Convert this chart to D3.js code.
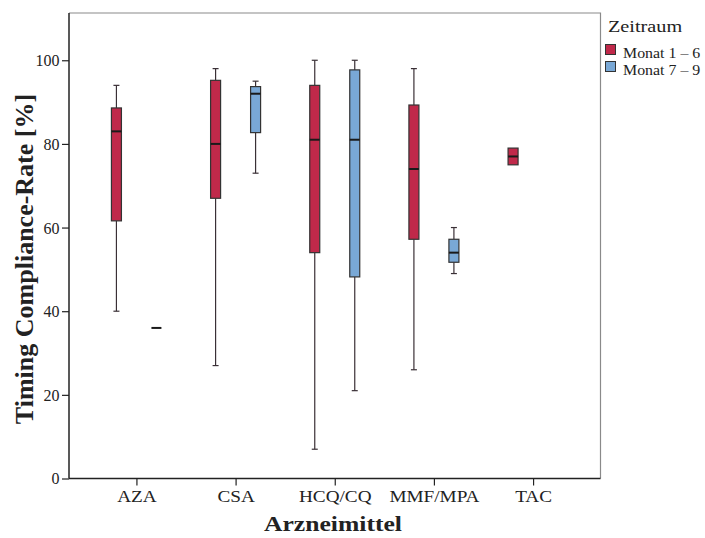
<!DOCTYPE html>
<html>
<head>
<meta charset="utf-8">
<script src="https://cdn.jsdelivr.net/npm/d3@7"></script>
<style>
  html, body { margin: 0; padding: 0; background: #fff; }
  svg { display: block; }
  text { font-family: "Liberation Serif", "DejaVu Serif", serif; fill: #222; }
</style>
</head>
<body>
<svg id="chart" width="705" height="538"></svg>
<script>
// Drug groups and the two observation periods
const categories = ["AZA", "CSA", "HCQ/CQ", "MMF/MPA", "TAC"];
const periods = ["Monat 1 – 6", "Monat 7 – 9"];
const periodColors = ["#C0294A", "#79A8D6"];
const yTicks = [0, 20, 40, 60, 80, 100];

// Box statistics per drug: [whisker low, Q1, median, Q3, whisker high]; null = no data
const stats1to6 = [
  [40, 61.6, 83, 88.6, 94],
  [27, 67, 80, 95.2, 98],
  [7, 54, 81, 94, 100],
  [26, 57.2, 74, 89.3, 98],
  [75, 75, 77, 79, 79]
];
const stats7to9 = [
  [36, 36, 36, 36, 36],
  [73, 82.7, 92, 93.7, 95],
  [21, 48.2, 81, 97.7, 100],
  [49, 51.7, 54, 57.2, 60],
  null
];
const seriesStats = [stats1to6, stats7to9];

const svg = d3.select("#chart");
const margin = { left: 69, top: 13, right: 600.5, bottom: 478.5 };

const x = d3.scalePoint().domain(categories)
  .range([margin.left, margin.right]).padding(0.68);
const offset = d3.scalePoint().domain(periods).range([-20, 20]);
const y = d3.scaleLinear().domain([0, 111.3]).range([margin.bottom, margin.top]);
const boxW = 10;

// Widen a serif label so it takes the room of a book-style face
function widen(sel, k) {
  sel.each(function () {
    const len = this.getComputedTextLength();
    d3.select(this).attr("textLength", len * k).attr("lengthAdjust", "spacingAndGlyphs");
  });
}

// Frame: light top/right edges
svg.append("path")
  .attr("d", `M${margin.left},${margin.top}H${margin.right}V${margin.bottom}`)
  .attr("fill", "none").attr("stroke", "#8a8a8a").attr("stroke-width", 1.2);

// Axes
const yAxis = svg.append("g").attr("transform", `translate(${margin.left},0)`)
  .call(d3.axisLeft(y).tickValues(yTicks).tickSize(7).tickSizeOuter(0));
const xAxis = svg.append("g").attr("transform", `translate(0,${margin.bottom})`)
  .call(d3.axisBottom(x).tickSize(7).tickSizeOuter(0));
[yAxis, xAxis].forEach(g => {
  g.select(".domain").attr("stroke", "#222").attr("stroke-width", 1.5);
  g.selectAll(".tick line").attr("stroke", "#222").attr("stroke-width", 1.2);
  g.selectAll(".tick text").style("font-size", "16px").attr("fill", "#333");
});
yAxis.select(".domain").attr("d", `M0,${margin.bottom}V${margin.top}`);
xAxis.select(".domain").attr("d", `M${margin.left},0H${margin.right}`);
yAxis.selectAll(".tick text").attr("x", -9.5).attr("dy", "0.34em");
xAxis.selectAll(".tick text").attr("y", 23.5).attr("dy", 0);
widen(xAxis.selectAll(".tick text"), 1.2);

// Boxes
const plot = svg.append("g");
seriesStats.forEach((stats, si) => {
  stats.forEach((s, ci) => {
    if (!s) return;
    const [lo, q1, med, q3, hi] = s;
    const cx = x(categories[ci]) + offset(periods[si]);
    const g = plot.append("g");
    // whiskers
    if (hi > q3) {
      g.append("line").attr("x1", cx).attr("x2", cx).attr("y1", y(q3)).attr("y2", y(hi))
        .attr("stroke", "#3a3036").attr("stroke-width", 1.2);
      g.append("line").attr("x1", cx - 3).attr("x2", cx + 3).attr("y1", y(hi)).attr("y2", y(hi))
        .attr("stroke", "#3a3036").attr("stroke-width", 1.2);
    }
    if (lo < q1) {
      g.append("line").attr("x1", cx).attr("x2", cx).attr("y1", y(q1)).attr("y2", y(lo))
        .attr("stroke", "#3a3036").attr("stroke-width", 1.2);
      g.append("line").attr("x1", cx - 3).attr("x2", cx + 3).attr("y1", y(lo)).attr("y2", y(lo))
        .attr("stroke", "#3a3036").attr("stroke-width", 1.2);
    }
    if (q3 > q1) {
      g.append("rect").attr("x", cx - boxW / 2).attr("y", y(q3))
        .attr("width", boxW).attr("height", y(q1) - y(q3))
        .attr("fill", periodColors[si]).attr("stroke", "#333").attr("stroke-width", 1.2);
    }
    g.append("line").attr("x1", cx - boxW / 2).attr("x2", cx + boxW / 2)
      .attr("y1", y(med)).attr("y2", y(med))
      .attr("stroke", "#1a1a1a").attr("stroke-width", 2);
  });
});

// Axis titles
const xTitle = svg.append("text").attr("x", 333).attr("y", 531).attr("text-anchor", "middle")
  .style("font-size", "21px").style("font-weight", "bold").attr("fill", "#222")
  .text("Arzneimittel");
widen(xTitle, 1.22);
svg.append("text").attr("transform", "translate(33,259) rotate(-90)")
  .attr("text-anchor", "middle")
  .style("font-size", "26px").style("font-weight", "bold").attr("fill", "#222")
  .text("Timing Compliance-Rate [%]");

// Legend
const legend = svg.append("g");
const legendTitle = legend.append("text").attr("x", 608).attr("y", 31.5)
  .style("font-size", "17px").attr("fill", "#333").text("Zeitraum");
widen(legendTitle, 1.19);
periods.forEach((p, i) => {
  const ly = 44.5 + i * 17;
  legend.append("rect").attr("x", 605.5).attr("y", ly).attr("width", 10).attr("height", 10)
    .attr("fill", periodColors[i]).attr("stroke", "#333").attr("stroke-width", 1);
  const t = legend.append("text").attr("x", 623).attr("y", ly + 13.5)
    .style("font-size", "15px").attr("fill", "#333").text(p);
  widen(t, 1.06);
});
</script>
</body>
</html>
